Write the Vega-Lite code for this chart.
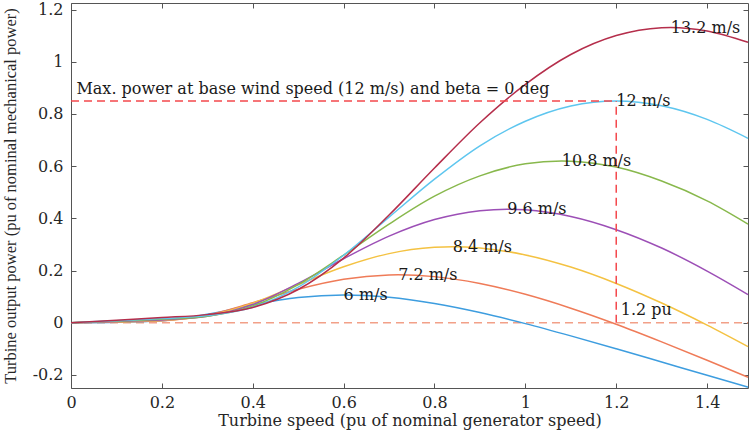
{
  "$schema": "https://vega.github.io/schema/vega-lite/v6.json",
  "width": 677,
  "height": 385,
  "autosize": {"type": "none"},
  "padding": {"left": 71, "top": 3, "right": 2, "bottom": 42},
  "background": "white",
  "config": {
    "view": {"stroke": "#555555", "strokeWidth": 1},
    "axis": {
      "domain": false,
      "grid": false,
      "tickColor": "#555555",
      "tickSize": -5,
      "labelFont": "DejaVu Serif",
      "labelFontSize": 16,
      "labelColor": "#262626",
      "labelFlush": false,
      "labelOverlap": false,
      "titleFont": "DejaVu Serif",
      "titleFontSize": 16,
      "titleFontWeight": "normal",
      "titleColor": "#262626"
    }
  },
  "datasets": {
    "curves": [
      {"s": "6 m/s", "w": 0, "p": 0}, {"s": "6 m/s", "w": 0.1, "p": 0.002}, {"s": "6 m/s", "w": 0.2, "p": 0.0075}, {"s": "6 m/s", "w": 0.3, "p": 0.0323}, {"s": "6 m/s", "w": 0.4, "p": 0.0688}, {"s": "6 m/s", "w": 0.5, "p": 0.0965}, {"s": "6 m/s", "w": 0.6, "p": 0.1063}, {"s": "6 m/s", "w": 0.7, "p": 0.0974}, {"s": "6 m/s", "w": 0.8, "p": 0.0735}, {"s": "6 m/s", "w": 0.9, "p": 0.0389}, {"s": "6 m/s", "w": 1.0, "p": -0.0033}, {"s": "6 m/s", "w": 1.1, "p": -0.0503}, {"s": "6 m/s", "w": 1.2, "p": -0.0998}, {"s": "6 m/s", "w": 1.3, "p": -0.1505}, {"s": "6 m/s", "w": 1.4, "p": -0.2014}, {"s": "6 m/s", "w": 1.49, "p": -0.2468},
      {"s": "7.2 m/s", "w": 0, "p": 0}, {"s": "7.2 m/s", "w": 0.1, "p": 0.003}, {"s": "7.2 m/s", "w": 0.2, "p": 0.0075}, {"s": "7.2 m/s", "w": 0.3, "p": 0.0295}, {"s": "7.2 m/s", "w": 0.4, "p": 0.0766}, {"s": "7.2 m/s", "w": 0.5, "p": 0.1285}, {"s": "7.2 m/s", "w": 0.6, "p": 0.1668}, {"s": "7.2 m/s", "w": 0.7, "p": 0.183}, {"s": "7.2 m/s", "w": 0.72, "p": 0.1836}, {"s": "7.2 m/s", "w": 0.8, "p": 0.1767}, {"s": "7.2 m/s", "w": 0.9, "p": 0.1504}, {"s": "7.2 m/s", "w": 1.0, "p": 0.1089}, {"s": "7.2 m/s", "w": 1.1, "p": 0.0558}, {"s": "7.2 m/s", "w": 1.2, "p": -0.0056}, {"s": "7.2 m/s", "w": 1.3, "p": -0.0731}, {"s": "7.2 m/s", "w": 1.4, "p": -0.1437}, {"s": "7.2 m/s", "w": 1.49, "p": -0.2087},
      {"s": "8.4 m/s", "w": 0, "p": 0}, {"s": "8.4 m/s", "w": 0.1, "p": 0.004}, {"s": "8.4 m/s", "w": 0.2, "p": 0.0086}, {"s": "8.4 m/s", "w": 0.3, "p": 0.0264}, {"s": "8.4 m/s", "w": 0.4, "p": 0.0753}, {"s": "8.4 m/s", "w": 0.5, "p": 0.1461}, {"s": "8.4 m/s", "w": 0.6, "p": 0.2144}, {"s": "8.4 m/s", "w": 0.7, "p": 0.2648}, {"s": "8.4 m/s", "w": 0.8, "p": 0.2889}, {"s": "8.4 m/s", "w": 0.84, "p": 0.2916}, {"s": "8.4 m/s", "w": 0.9, "p": 0.2866}, {"s": "8.4 m/s", "w": 1.0, "p": 0.2598}, {"s": "8.4 m/s", "w": 1.1, "p": 0.2133}, {"s": "8.4 m/s", "w": 1.2, "p": 0.1506}, {"s": "8.4 m/s", "w": 1.3, "p": 0.0755}, {"s": "8.4 m/s", "w": 1.4, "p": -0.0089}, {"s": "8.4 m/s", "w": 1.49, "p": -0.0912},
      {"s": "9.6 m/s", "w": 0, "p": 0}, {"s": "9.6 m/s", "w": 0.1, "p": 0.0052}, {"s": "9.6 m/s", "w": 0.2, "p": 0.0106}, {"s": "9.6 m/s", "w": 0.3, "p": 0.0248}, {"s": "9.6 m/s", "w": 0.4, "p": 0.0698}, {"s": "9.6 m/s", "w": 0.5, "p": 0.1509}, {"s": "9.6 m/s", "w": 0.6, "p": 0.2452}, {"s": "9.6 m/s", "w": 0.7, "p": 0.3317}, {"s": "9.6 m/s", "w": 0.8, "p": 0.3953}, {"s": "9.6 m/s", "w": 0.9, "p": 0.4294}, {"s": "9.6 m/s", "w": 0.96, "p": 0.4352}, {"s": "9.6 m/s", "w": 1.0, "p": 0.4327}, {"s": "9.6 m/s", "w": 1.1, "p": 0.4071}, {"s": "9.6 m/s", "w": 1.2, "p": 0.3566}, {"s": "9.6 m/s", "w": 1.3, "p": 0.2862}, {"s": "9.6 m/s", "w": 1.4, "p": 0.198}, {"s": "9.6 m/s", "w": 1.49, "p": 0.1081},
      {"s": "10.8 m/s", "w": 0, "p": 0}, {"s": "10.8 m/s", "w": 0.1, "p": 0.0066}, {"s": "10.8 m/s", "w": 0.2, "p": 0.0133}, {"s": "10.8 m/s", "w": 0.3, "p": 0.0252}, {"s": "10.8 m/s", "w": 0.4, "p": 0.0639}, {"s": "10.8 m/s", "w": 0.5, "p": 0.1459}, {"s": "10.8 m/s", "w": 0.6, "p": 0.2586}, {"s": "10.8 m/s", "w": 0.7, "p": 0.378}, {"s": "10.8 m/s", "w": 0.8, "p": 0.485}, {"s": "10.8 m/s", "w": 0.9, "p": 0.5628}, {"s": "10.8 m/s", "w": 1.0, "p": 0.6088}, {"s": "10.8 m/s", "w": 1.08, "p": 0.6197}, {"s": "10.8 m/s", "w": 1.1, "p": 0.619}, {"s": "10.8 m/s", "w": 1.2, "p": 0.5964}, {"s": "10.8 m/s", "w": 1.3, "p": 0.543}, {"s": "10.8 m/s", "w": 1.4, "p": 0.4671}, {"s": "10.8 m/s", "w": 1.49, "p": 0.3782},
      {"s": "12 m/s", "w": 0, "p": 0}, {"s": "12 m/s", "w": 0.1, "p": 0.0081}, {"s": "12 m/s", "w": 0.2, "p": 0.0163}, {"s": "12 m/s", "w": 0.3, "p": 0.0274}, {"s": "12 m/s", "w": 0.4, "p": 0.0597}, {"s": "12 m/s", "w": 0.5, "p": 0.1364}, {"s": "12 m/s", "w": 0.6, "p": 0.2587}, {"s": "12 m/s", "w": 0.7, "p": 0.4046}, {"s": "12 m/s", "w": 0.8, "p": 0.5502}, {"s": "12 m/s", "w": 0.9, "p": 0.678}, {"s": "12 m/s", "w": 1.0, "p": 0.7721}, {"s": "12 m/s", "w": 1.1, "p": 0.8305}, {"s": "12 m/s", "w": 1.2, "p": 0.85}, {"s": "12 m/s", "w": 1.3, "p": 0.8311}, {"s": "12 m/s", "w": 1.4, "p": 0.779}, {"s": "12 m/s", "w": 1.49, "p": 0.7066},
      {"s": "13.2 m/s", "w": 0, "p": 0}, {"s": "13.2 m/s", "w": 0.1, "p": 0.0098}, {"s": "13.2 m/s", "w": 0.2, "p": 0.0197}, {"s": "13.2 m/s", "w": 0.3, "p": 0.0311}, {"s": "13.2 m/s", "w": 0.4, "p": 0.0585}, {"s": "13.2 m/s", "w": 0.5, "p": 0.1273}, {"s": "13.2 m/s", "w": 0.6, "p": 0.2475}, {"s": "13.2 m/s", "w": 0.7, "p": 0.4125}, {"s": "13.2 m/s", "w": 0.8, "p": 0.5928}, {"s": "13.2 m/s", "w": 0.9, "p": 0.7663}, {"s": "13.2 m/s", "w": 1.0, "p": 0.9133}, {"s": "13.2 m/s", "w": 1.1, "p": 1.0276}, {"s": "13.2 m/s", "w": 1.2, "p": 1.1002}, {"s": "13.2 m/s", "w": 1.3, "p": 1.1304}, {"s": "13.2 m/s", "w": 1.32, "p": 1.1314}, {"s": "13.2 m/s", "w": 1.4, "p": 1.1179}, {"s": "13.2 m/s", "w": 1.49, "p": 1.0743}
    ],
    "refs": [
      {"g": "z", "x": 0, "y": 0}, {"g": "z", "x": 1.49, "y": 0},
      {"g": "h", "x": 0, "y": 0.85}, {"g": "h", "x": 1.2, "y": 0.85},
      {"g": "v", "x": 1.2, "y": 0}, {"g": "v", "x": 1.2, "y": 0.85}
    ],
    "labels": [
      {"t": "6 m/s", "x": 0.6, "y": 0.106},
      {"t": "7.2 m/s", "x": 0.72, "y": 0.184},
      {"t": "8.4 m/s", "x": 0.84, "y": 0.292},
      {"t": "9.6 m/s", "x": 0.96, "y": 0.435},
      {"t": "10.8 m/s", "x": 1.08, "y": 0.62},
      {"t": "12 m/s", "x": 1.2, "y": 0.85},
      {"t": "13.2 m/s", "x": 1.32, "y": 1.131},
      {"t": "1.2 pu", "x": 1.21, "y": 0.048},
      {"t": "Max. power at base wind speed (12 m/s) and beta = 0 deg", "x": 0.012, "y": 0.895}
    ]
  },
  "layer": [
    {
      "data": {"name": "refs"},
      "transform": [{"filter": "datum.g == 'z'"}],
      "mark": {"type": "line", "stroke": "#f2a088", "strokeDash": [8, 5], "strokeWidth": 1.3},
      "encoding": {
        "x": {
          "field": "x", "type": "quantitative",
          "scale": {"domain": [0, 1.49], "nice": false, "zero": false},
          "axis": {
            "orient": "bottom",
            "values": [0, 0.2, 0.4, 0.6, 0.8, 1, 1.2, 1.4],
            "labelExpr": "'' + datum.value",
            "labelPadding": 11,
            "title": "Turbine speed (pu of nominal generator speed)",
            "titlePadding": 2
          }
        },
        "y": {
          "field": "y", "type": "quantitative",
          "scale": {"domain": [-0.25, 1.225], "nice": false, "zero": false},
          "axis": {
            "orient": "left",
            "values": [-0.2, 0, 0.2, 0.4, 0.6, 0.8, 1, 1.2],
            "labelExpr": "'' + datum.value",
            "labelPadding": 13,
            "title": "Turbine output power (pu of nominal mechanical power)",
            "titleFont": "Liberation Serif",
            "titleFontSize": 16.5,
            "titlePadding": 14
          }
        }
      }
    },
    {
      "data": {"name": "curves"},
      "mark": {"type": "line", "interpolate": "monotone", "strokeWidth": 1.5},
      "encoding": {
        "x": {"field": "w", "type": "quantitative", "scale": {"domain": [0, 1.49], "nice": false, "zero": false}, "axis": null},
        "y": {"field": "p", "type": "quantitative", "scale": {"domain": [-0.25, 1.225], "nice": false, "zero": false}, "axis": null},
        "color": {
          "field": "s", "type": "nominal",
          "scale": {
            "domain": ["6 m/s", "7.2 m/s", "8.4 m/s", "9.6 m/s", "10.8 m/s", "12 m/s", "13.2 m/s"],
            "range": ["#3d9ddf", "#ef7b58", "#f4c242", "#9c4fb6", "#88b84c", "#5ec6ef", "#b52e4b"]
          },
          "legend": null
        }
      }
    },
    {
      "data": {"name": "refs"},
      "transform": [{"filter": "datum.g != 'z'"}],
      "mark": {"type": "line", "stroke": "#f4484c", "strokeDash": [8, 5], "strokeWidth": 1.5},
      "encoding": {
        "x": {"field": "x", "type": "quantitative", "scale": {"domain": [0, 1.49], "nice": false, "zero": false}, "axis": null},
        "y": {"field": "y", "type": "quantitative", "scale": {"domain": [-0.25, 1.225], "nice": false, "zero": false}, "axis": null},
        "detail": {"field": "g", "type": "nominal"}
      }
    },
    {
      "data": {"name": "labels"},
      "mark": {"type": "text", "align": "left", "baseline": "middle", "font": "DejaVu Serif", "fontSize": 16, "color": "#1a1a1a"},
      "encoding": {
        "x": {"field": "x", "type": "quantitative", "scale": {"domain": [0, 1.49], "nice": false, "zero": false}, "axis": null},
        "y": {"field": "y", "type": "quantitative", "scale": {"domain": [-0.25, 1.225], "nice": false, "zero": false}, "axis": null},
        "text": {"field": "t", "type": "nominal"}
      }
    },
    {
      "data": {"name": "refs"},
      "mark": {"type": "point", "opacity": 0},
      "encoding": {
        "x": {
          "field": "x", "type": "quantitative",
          "scale": {"domain": [0, 1.49], "nice": false, "zero": false},
          "axis": {"orient": "top", "values": [0, 0.2, 0.4, 0.6, 0.8, 1, 1.2, 1.4], "labels": false, "title": null}
        },
        "y": {
          "field": "y", "type": "quantitative",
          "scale": {"domain": [-0.25, 1.225], "nice": false, "zero": false},
          "axis": {"orient": "right", "values": [-0.2, 0, 0.2, 0.4, 0.6, 0.8, 1, 1.2], "labels": false, "title": null}
        }
      }
    }
  ],
  "resolve": {"axis": {"x": "independent", "y": "independent"}}
}
